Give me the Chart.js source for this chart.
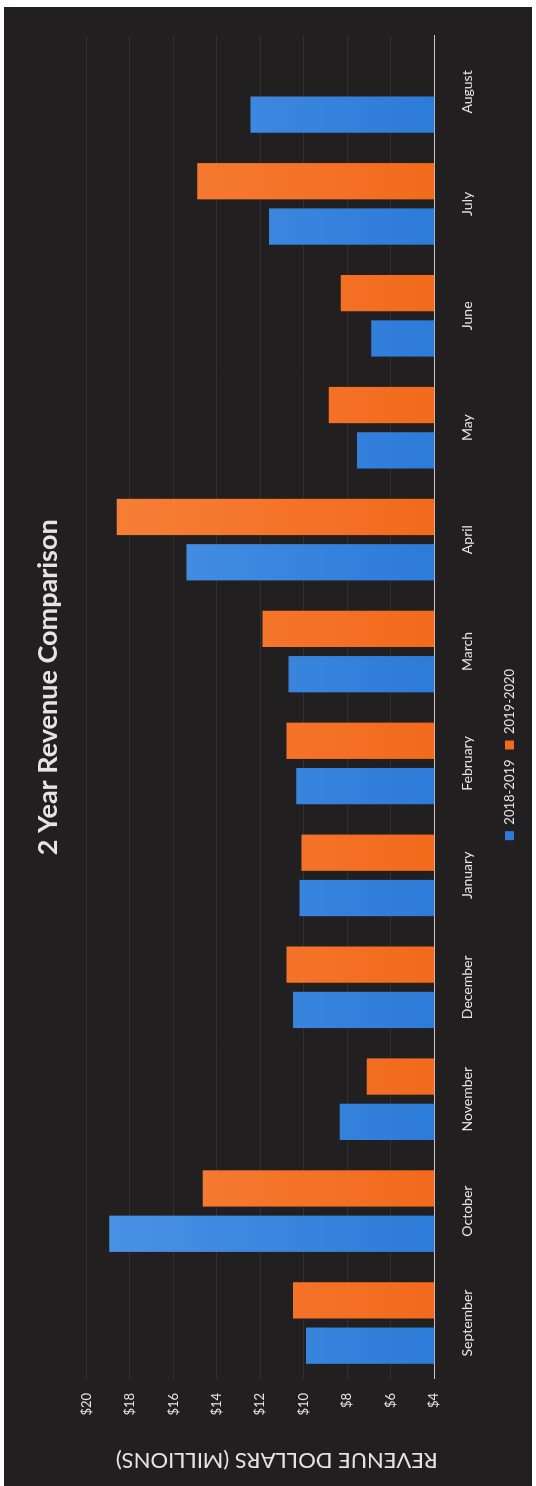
<!DOCTYPE html>
<html>
<head>
<meta charset="utf-8">
<script src="https://cdn.jsdelivr.net/npm/chart.js@4.4.1/dist/chart.umd.min.js"></script>
<style>
    body {
        margin: 0;
        background: #ffffff;
        width: 536px;
        height: 1486px;
        position: relative;
        overflow: hidden;
    }
    .backdrop {
        position: absolute;
        left: 4px;
        top: 7px;
        width: 528px;
        height: 1479px;
        background: #221f21;
    }
    #revenue-chart {
        position: absolute;
        left: 0;
        top: 0;
        transform-origin: 0 0;
        transform: translate(0, 1486px) rotate(-90deg);
    }
</style>
</head>
<body>
<div class="backdrop"></div>
<canvas id="revenue-chart" width="1486" height="536"></canvas>
<script>
const months = [
    "September", "October", "November", "December", "January", "February",
    "March", "April", "May", "June", "July", "August",
];
const revenue2018 = [9.9, 18.95, 8.35, 10.5, 10.2, 10.35, 10.7, 15.4, 7.55, 6.9, 11.6, 12.45];
const revenue2019 = [10.5, 14.65, 7.1, 10.8, 10.1, 10.8, 11.9, 18.6, 8.85, 8.3, 14.9, null];
const yearLabels = ["2018-2019", "2019-2020"];
const dollarTicks = [4, 6, 8, 10, 12, 14, 16, 18, 20];

const textColor = "#e4e4e4";
const fontFamily = "Lato, 'Open Sans', sans-serif";

const revenueChart = document.querySelector("canvas#revenue-chart");

// lighter at the tip of the bar, like the original shading
function barFill(tip, base) {
    return (context) => {
        const area = context.chart.chartArea;
        if (!area) return base;
        const g = context.chart.ctx.createLinearGradient(0, area.top, 0, area.bottom);
        g.addColorStop(0, tip);
        g.addColorStop(1, base);
        return g;
    };
}

const data = {
    labels: months,
    datasets: [
        {
            label: yearLabels[0],
            data: revenue2018,
            backgroundColor: barFill("#4b93e6", "#2c7bd8"),
            categoryPercentage: 0.81,
            barPercentage: 0.8,
        },
        {
            label: yearLabels[1],
            data: revenue2019,
            backgroundColor: barFill("#f7803a", "#f26a1c"),
            categoryPercentage: 0.81,
            barPercentage: 0.8,
        },
    ],
};

const config = {
    type: "bar",
    data: data,
    options: {
        responsive: false,
        animation: false,
        layout: {
            padding: { left: 13, right: 36, top: 0, bottom: 10 },
        },
        plugins: {
            title: {
                display: true,
                text: "\u2002\u2002\u20022 Year Revenue Comparison",
                color: textColor,
                fullSize: false,
                font: { family: fontFamily, size: 27, weight: "bold" },
                padding: { top: 32, bottom: 22 },
            },
            legend: {
                position: "bottom",
                labels: {
                    color: textColor,
                    boxWidth: 9,
                    boxHeight: 9,
                    padding: 10,
                    font: { family: fontFamily, size: 13 },
                },
            },
            tooltip: { enabled: false },
        },
        scales: {
            x: {
                grid: { display: false },
                border: { display: true, color: "#c8c8c8", width: 1 },
                ticks: {
                    color: textColor,
                    padding: 17,
                    maxRotation: 0,
                    font: { family: fontFamily, size: 14 },
                },
            },
            y: {
                min: 4,
                max: 20,
                afterBuildTicks: (scale) => {
                    scale.ticks = dollarTicks.map((v) => ({ value: v }));
                },
                grid: { color: "rgba(255, 255, 255, 0.07)", drawTicks: false },
                border: { display: false },
                ticks: {
                    color: textColor,
                    padding: 14,
                    font: { family: fontFamily, size: 13 },
                    callback: (value) => "$" + value,
                },
                title: {
                    display: true,
                    text: "REVENUE DOLLARS (MILLIONS)\u2002\u2002\u2002",
                    color: textColor,
                    font: { family: fontFamily, size: 22 },
                    padding: { top: 0, bottom: 17 },
                },
            },
        },
    },
};

const myChart = new Chart(revenueChart, config);
</script>
</body>
</html>
